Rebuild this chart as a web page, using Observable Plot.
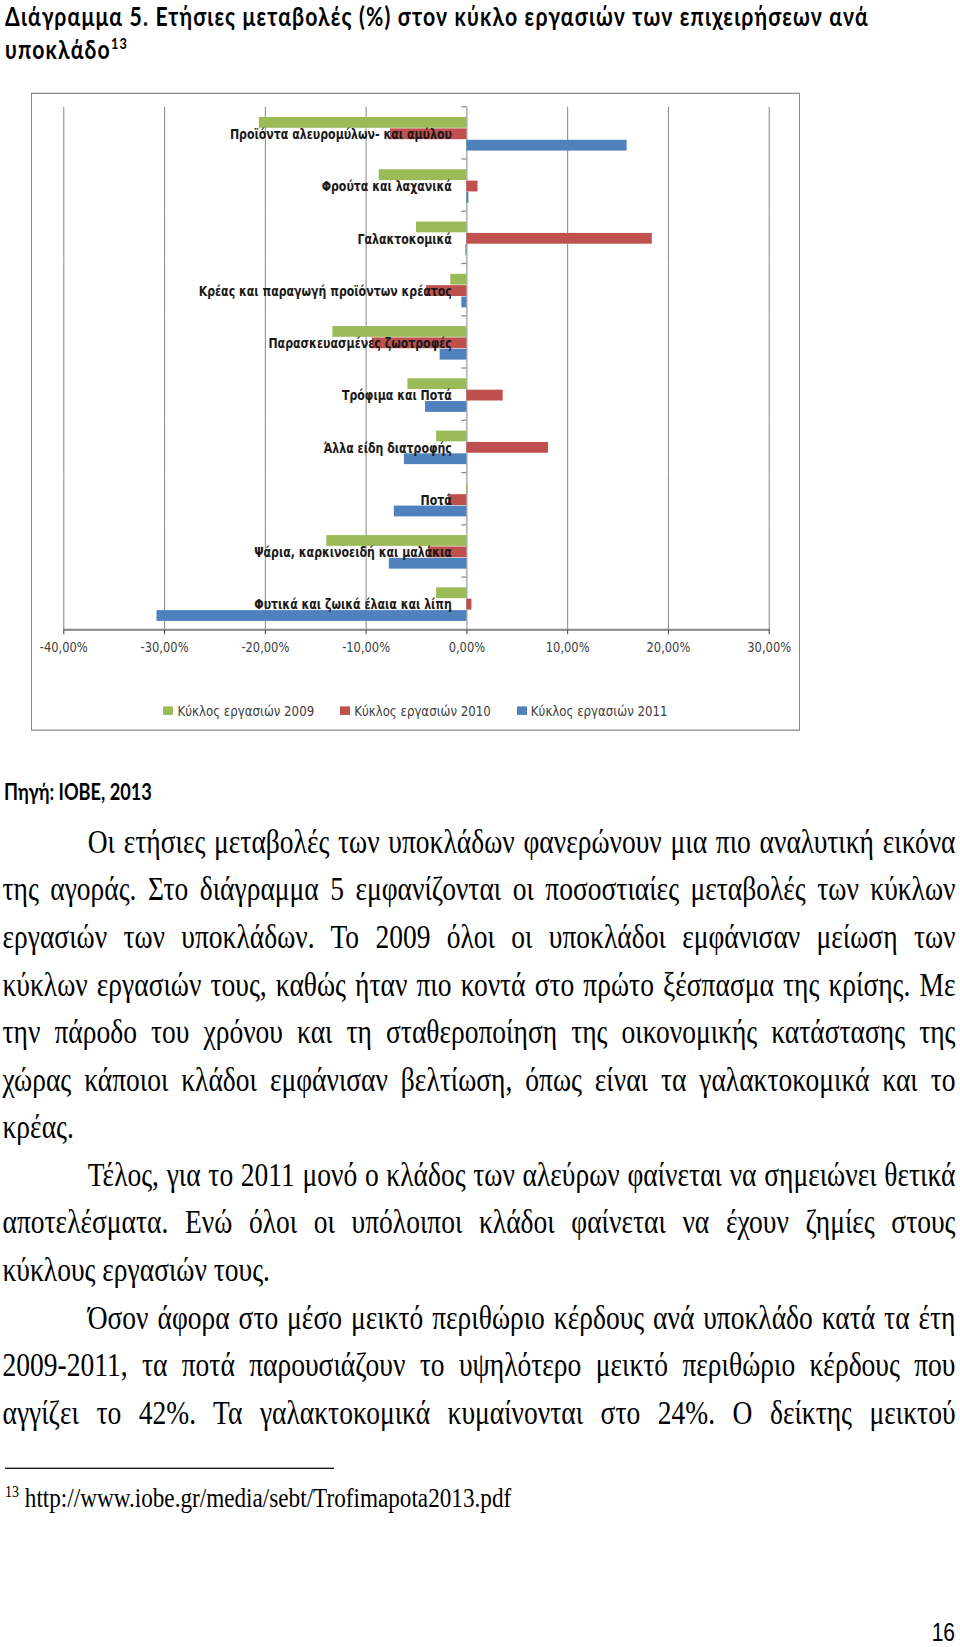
<!DOCTYPE html>
<html>
<head>
<meta charset="utf-8">
<script src="https://cdn.jsdelivr.net/npm/d3@7"></script>
<script src="https://cdn.jsdelivr.net/npm/@observablehq/plot@0.6"></script>
<style>
  html, body { margin: 0; padding: 0; background: #fff; }
  body { width: 960px; height: 1647px; overflow: hidden; position: relative; }
  #page { position: absolute; left: 0; top: 0; width: 960px; height: 1350px; transform-origin: 0 0; transform: scaleY(1.22); }
  .abs { position: absolute; white-space: nowrap; }
  .heading { font-family: "Lato", "Open Sans", sans-serif; font-weight: 700; font-size: 18px; line-height: 20px; color: #000; }
  .bodyline { font-family: "Liberation Serif", serif; font-size: 27.5px; line-height: 30px; height: 30px; color: #000; }
  .just { text-align: justify; text-align-last: justify; }
  #chartbox { position: absolute; box-sizing: border-box; border: 1px solid #868686; background: #fff; }
  #legend { position: absolute; left: 0; right: 0; display: flex; justify-content: center; column-gap: 26px;
            font-family: "DejaVu Sans", sans-serif; font-size: 11.8px; line-height: 14px; color: #404040; }
  #legend .item { display: flex; align-items: center; }
  #legend .sw { width: 10px; height: 7.5px; margin-right: 4px; }
  sup { font-size: 60%; line-height: 0; vertical-align: 7.5px; }
  #pagenum { font-family: "Liberation Sans", sans-serif; font-size: 21px; line-height: 21px; color: #000; }
</style>
</head>
<body>
<div id="page"></div>
<script>
// ---------- chart data ----------
const categories = [
  "Προϊόντα αλευρομύλων- και αμύλου",
  "Φρούτα και λαχανικά",
  "Γαλακτοκομικά",
  "Κρέας και παραγωγή προϊόντων κρέατος",
  "Παρασκευασμένες ζωοτροφές",
  "Τρόφιμα και Ποτά",
  "Άλλα είδη διατροφής",
  "Ποτά",
  "Ψάρια, καρκινοειδή και μαλάκια",
  "Φυτικά και ζωικά έλαια και λίπη"
];
const seriesNames = ["Κύκλος εργασιών 2009", "Κύκλος εργασιών 2010", "Κύκλος εργασιών 2011"];
const values2009 = [-20.6, -8.7, -5.0, -1.6, -13.3, -5.85, -3.0, 0.1, -13.9, -3.0];
const values2010 = [-7.6, 1.1, 18.4, -4.0, -9.4, 3.6, 8.1, -1.8, -3.8, 0.5];
const values2011 = [15.9, 0.2, -0.1, -0.5, -2.65, -4.1, -6.2, -7.2, -7.7, -30.75];
const xTicks = [-40, -30, -20, -10, 0, 10, 20, 30];

// ---------- page text ----------
const titleLines = ["Διάγραμμα 5. Ετήσιες μεταβολές (%) στον κύκλο εργασιών των επιχειρήσεων ανά", "υποκλάδο"];
const titleNote = "13";
const sourceText = "Πηγή: IOBE, 2013";
const paragraphs = [
  ["Οι ετήσιες μεταβολές των υποκλάδων φανερώνουν μια πιο αναλυτική εικόνα",
   "της αγοράς. Στο διάγραμμα 5 εμφανίζονται οι ποσοστιαίες μεταβολές των κύκλων",
   "εργασιών των υποκλάδων. Το 2009 όλοι οι υποκλάδοι εμφάνισαν μείωση των",
   "κύκλων εργασιών τους, καθώς ήταν πιο κοντά στο πρώτο ξέσπασμα της κρίσης. Με",
   "την πάροδο του χρόνου και τη σταθεροποίηση της οικονομικής κατάστασης της",
   "χώρας κάποιοι κλάδοι εμφάνισαν βελτίωση, όπως είναι τα γαλακτοκομικά και το",
   "κρέας."],
  ["Τέλος, για το 2011 μονό ο κλάδος των αλεύρων φαίνεται να σημειώνει θετικά",
   "αποτελέσματα. Ενώ όλοι οι υπόλοιποι κλάδοι φαίνεται να έχουν ζημίες στους",
   "κύκλους εργασιών τους."],
  ["Όσον άφορα στο μέσο μεικτό περιθώριο κέρδους ανά υποκλάδο κατά τα έτη",
   "2009-2011, τα ποτά παρουσιάζουν το υψηλότερο μεικτό περιθώριο κέρδους που",
   "αγγίζει το 42%. Τα γαλακτοκομικά κυμαίνονται στο 24%. Ο δείκτης μεικτού"]
];
const paragraphContinues = [false, false, true];
const footnoteMark = "13";
const footnoteText = "http://www.iobe.gr/media/sebt/Trofimapota2013.pdf";
const pageNumber = "16";

// ---------- layout helpers ----------
const S = 1.22;               // vertical stretch of the scanned page
const Y = v => v / S;          // convert page y to unstretched y
const page = document.getElementById("page");
function el(tag, cls, style, html) {
  const e = document.createElement(tag);
  if (cls) e.className = cls;
  Object.assign(e.style, style || {});
  if (html != null) e.innerHTML = html;
  return e;
}
function naturalWidth(node) {
  const r = document.createRange(); r.selectNodeContents(node);
  return r.getBoundingClientRect().width;
}
function rangeRect(node) {
  const r = document.createRange(); r.selectNodeContents(node);
  return r.getBoundingClientRect();
}
function fitFont(node, target) {
  const fs = parseFloat(getComputedStyle(node).fontSize);
  const w = naturalWidth(node);
  const nfs = fs * target / w;
  node.style.fontSize = nfs + "px";
  return nfs;
}

// ---------- title ----------
const t1Top = Y(15) - 10, t2Top = Y(44.5) - 10;
const t1 = el("div", "abs heading", {left: "5px", top: t1Top + "px"}, titleLines[0]);
page.appendChild(t1);
const tfs = fitFont(t1, 864) * 0.9;
t1.style.fontSize = tfs + "px";
const tls = (864 - naturalWidth(t1)) / titleLines[0].length;
t1.style.letterSpacing = tls + "px";
const t2 = el("div", "abs heading", {left: "5px", top: t2Top + "px", fontSize: tfs + "px", letterSpacing: tls + "px"},
  titleLines[1] + "<sup>" + titleNote + "</sup>");
page.appendChild(t2);
{ // keep the title inside the page and its two lines apart
  const r1 = rangeRect(t1);
  if (r1.top < 0.5) t1.style.top = (t1Top + (0.5 - r1.top) / S) + "px";
  const b1 = rangeRect(t1).bottom, a2 = rangeRect(t2.firstChild).top;
  if (a2 < b1 + 0.5) t2.style.top = (t2Top + (b1 + 0.5 - a2) / S) + "px";
}

// ---------- chart ----------
const boxLeft = 31, boxTop = Y(92.7), boxRight = 800, boxBottom = Y(731);
const box = el("div", "", {left: boxLeft + "px", top: boxTop + "px", width: (boxRight - boxLeft) + "px", height: (boxBottom - boxTop) + "px"});
box.id = "chartbox";
page.appendChild(box);

const rows = categories.flatMap((c, i) =>
  [values2009, values2010, values2011].map((vals, j) => ({category: c, series: seriesNames[j], value: vals[i]})));
const colors = ["#9BBB59", "#C0504D", "#4F81BD"];
const innerTop = boxTop + 1, innerLeft = boxLeft + 1;
const W = boxRight - boxLeft - 2;
const H = 470;
const mTop = Y(106.7) - innerTop;
const mBottom = H - (Y(629.3) - innerTop);

const plot = Plot.plot({
  width: W, height: H,
  marginLeft: 63.3 - innerLeft,
  marginRight: W - (768.7 - innerLeft),
  marginTop: mTop,
  marginBottom: mBottom,
  style: {fontFamily: "DejaVu Sans, sans-serif", fontSize: "11.5px", color: "#404040", background: "transparent", overflow: "visible"},
  x: {domain: [-40, 30], ticks: xTicks, tickFormat: d => d.toFixed(2).replace(".", ",") + "%", tickSize: 4, tickPadding: 6, line: true, label: null},
  y: {domain: seriesNames, paddingInner: 0.05, paddingOuter: 0.82, align: 0.55, round: false, axis: null},
  fy: {domain: categories, padding: 0, round: false, axis: null},
  color: {domain: seriesNames, range: colors},
  marks: [
    Plot.ruleX(xTicks, {stroke: "#868686", strokeWidth: 1}),
    Plot.barX(rows, {x: "value", y: "series", fy: "category", fill: "series"}),
    Plot.text(categories, {fy: d => d, x: 0, text: d => d, textAnchor: "end", dx: -15, dy: 1,
      fontWeight: "bold", fontSize: 11, fill: "#1a1a1a", fontFamily: "DejaVu Sans, sans-serif"})
  ]
});
plot.style.position = "absolute";
plot.style.left = "0px";
plot.style.top = "0px";
box.appendChild(plot);

// category-axis tick marks at the band boundaries, from the library's scales
{
  const fy = plot.scale("fy"), xs = plot.scale("x");
  const x0 = xs.apply(0);
  const bw = fy.bandwidth != null ? fy.bandwidth : (fy.range[1] - fy.range[0]) / categories.length;
  const g = d3.select(plot).append("g").attr("stroke", "#868686").attr("stroke-width", 1);
  categories.forEach(c => {
    const yy = fy.apply(c);
    g.append("line").attr("x1", x0 - 5).attr("x2", x0).attr("y1", yy).attr("y2", yy);
  });
  const yb = fy.apply(categories[categories.length - 1]) + bw;
  g.append("line").attr("x1", xs.apply(xTicks[0])).attr("x2", xs.apply(xTicks[xTicks.length - 1])).attr("y1", yb).attr("y2", yb);
}

// legend
const legend = el("div", "", {top: (Y(710.7) - innerTop - 7) + "px"});
legend.id = "legend";
seriesNames.forEach((s, i) => {
  const item = el("div", "item");
  item.appendChild(el("span", "sw", {background: colors[i]}));
  item.appendChild(el("span", "", {}, s));
  legend.appendChild(item);
});
box.appendChild(legend);

// ---------- source ----------
const src = el("div", "abs heading", {left: "4px", top: (Y(791.5) - 10) + "px", fontSize: "16px"}, sourceText);
page.appendChild(src);
fitFont(src, 148);

// ---------- body ----------
const leftX = 2.5, rightX = 955.5, indentX = 87.7;
let li = 0;
paragraphs.forEach((lines, p) => {
  lines.forEach((txt, k) => {
    const c = 845.3 + li * 47.6;
    const first = k === 0, last = k === lines.length - 1 && !paragraphContinues[p];
    const x = first ? indentX : leftX;
    const d = el("div", "abs bodyline" + (last ? "" : " just"),
      {left: x + "px", top: (Y(c) - 18) + "px", width: (rightX - x) + "px"}, txt);
    page.appendChild(d);
    const probe = el("span", "", {whiteSpace: "nowrap"}, txt);
    d.textContent = ""; d.appendChild(probe);
    const w = naturalWidth(probe);
    d.textContent = txt;
    if (w > rightX - x) d.style.letterSpacing = ((rightX - x - w) / txt.length - 0.02) + "px";
    li++;
  });
});

// ---------- footnote ----------
page.appendChild(el("div", "abs", {left: "5px", top: Y(1468) + "px", width: "329px", height: "1px", background: "#000"}));
const fn = el("div", "abs bodyline", {left: "5px", top: (Y(1500) - 17.5) + "px", fontSize: "23.2px"},
  "<sup style='font-size:14px;vertical-align:8px'>" + footnoteMark + "</sup> " + footnoteText);
page.appendChild(fn);

// ---------- page number ----------
const pn = el("div", "abs", {right: "5px", top: "1327.2px"}, pageNumber);
pn.id = "pagenum";
page.appendChild(pn);
</script>
</body>
</html>
